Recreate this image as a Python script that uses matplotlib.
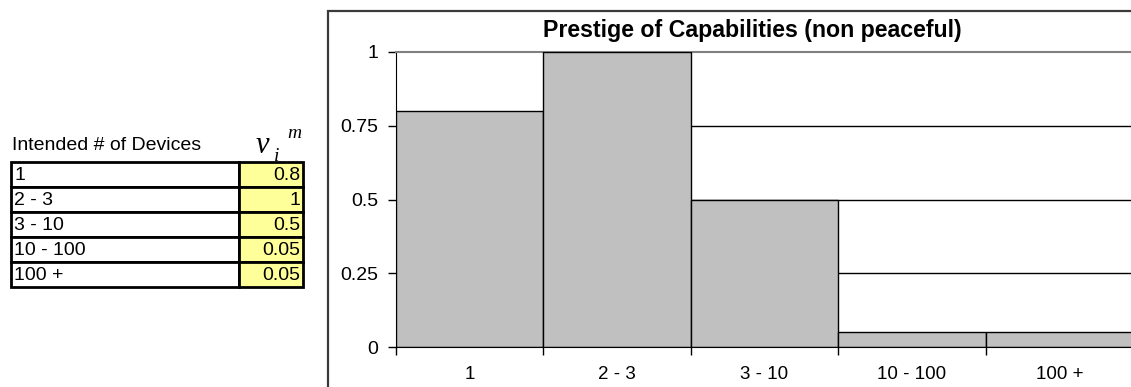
import matplotlib
matplotlib.use("Agg")
import matplotlib.pyplot as plt
from matplotlib.patches import Rectangle
import numpy as np

# Data
categories = ["1", "2 - 3", "3 - 10", "10 - 100", "100 +"]
values = [0.8, 1, 0.5, 0.05, 0.05]
value_labels = ["0.8", "1", "0.5", "0.05", "0.05"]
y_ticks = [0, 0.25, 0.5, 0.75, 1]
y_tick_labels = ["0", "0.25", "0.5", "0.75", "1"]

W, H = 1131, 387
plt.rcParams["font.family"] = ["Liberation Sans", "DejaVu Sans"]
fig = plt.figure(figsize=(W / 100, H / 100), dpi=100)


def fx(px):
    return px / W


def fy(py):
    return 1 - py / H


# Chart frame
fig.add_artist(Rectangle((fx(328), fy(395)), fx(900), fy(11) - fy(395),
                         transform=fig.transFigure, fill=False,
                         edgecolor="#3a3a3a", linewidth=1.6))

# Plot area
ax = fig.add_axes([fx(396), fy(347), fx(1133) - fx(396), fy(52) - fy(347)])
x = np.arange(len(categories))
ax.bar(x, values, width=1.0, color="#C0C0C0", edgecolor="black",
       linewidth=1.0, zorder=3)
ax.set_xlim(-0.5, len(categories) - 0.5)
ax.set_ylim(0, 1)

for yv in y_ticks[1:-1]:
    ax.axhline(yv, color="black", linewidth=1.0, zorder=1)

ax.spines["top"].set_color("#808080")
ax.spines["top"].set_linewidth(1.5)
ax.spines["right"].set_visible(False)
ax.spines["left"].set_color("black")
ax.spines["bottom"].set_color("black")
ax.spines["bottom"].set_zorder(4)

ax.set_yticks(y_ticks)
ax.set_yticklabels(y_tick_labels, fontsize=14)
ax.tick_params(axis="y", direction="out", length=6, width=1, pad=7)

ax.set_xticks(x)
ax.set_xticklabels(categories, fontsize=13.5)
ax.set_xticks(np.arange(len(categories) + 1) - 0.5, minor=True)
ax.tick_params(axis="x", which="major", length=0, pad=14)
ax.tick_params(axis="x", which="minor", direction="out", length=6, width=1)

fig.text(fx(752), fy(31), "Prestige of Capabilities (non peaceful)",
         fontsize=16.7, fontweight="bold", ha="center", va="center")

# Data table
fig.text(fx(12), fy(146), "Intended # of Devices", fontsize=14,
         ha="left", va="center")
serif = ["Liberation Serif", "DejaVu Serif"]
fig.text(fx(256), fy(146), "v", fontsize=22, style="italic",
         family=serif, ha="left", va="center")
fig.text(fx(274), fy(156), "i", fontsize=14, style="italic",
         family=serif, ha="left", va="center")
fig.text(fx(287), fy(133), "m", fontsize=14, style="italic",
         family=serif, ha="left", va="center")

row_top = 162
row_h = 25
x_left, x_mid, x_right = 11, 239, 303
for i, (cat, lab) in enumerate(zip(categories, value_labels)):
    top = row_top + i * row_h
    bot = top + row_h
    fig.add_artist(Rectangle((fx(x_left), fy(bot)), fx(x_mid) - fx(x_left),
                             fy(top) - fy(bot), transform=fig.transFigure,
                             facecolor="white", edgecolor="black",
                             linewidth=2))
    fig.add_artist(Rectangle((fx(x_mid), fy(bot)), fx(x_right) - fx(x_mid),
                             fy(top) - fy(bot), transform=fig.transFigure,
                             facecolor="#FFFF99", edgecolor="black",
                             linewidth=2))
    fig.text(fx(x_left + 3), fy(top + row_h / 2 + 1), cat, fontsize=14,
             ha="left", va="center")
    fig.text(fx(x_right - 3), fy(top + row_h / 2 + 1), lab, fontsize=14,
             ha="right", va="center")

fig.savefig("out.png", dpi=100)
